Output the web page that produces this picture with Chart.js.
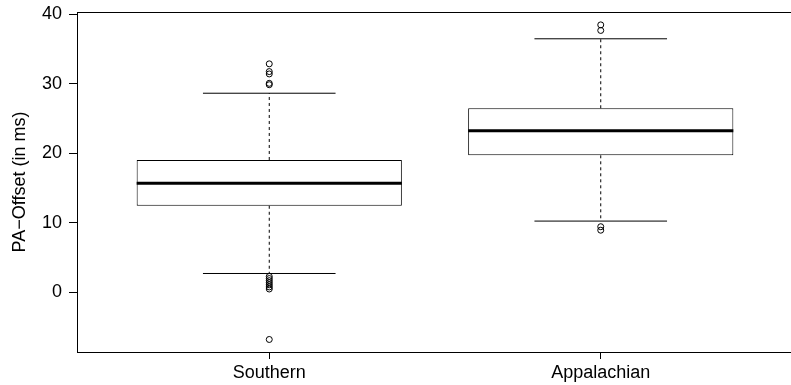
<!DOCTYPE html>
<html>
<head>
<meta charset="utf-8">
<script src="https://cdn.jsdelivr.net/npm/chart.js@4/dist/chart.umd.min.js"></script>
<style>
  html, body { margin: 0; padding: 0; background: #fff; overflow: hidden; }
  #wrap { width: 798px; height: 385px; position: relative; }
</style>
</head>
<body>
<div id="wrap"><canvas id="c"></canvas></div>
<script>
// ---- data ----
const categories = ['Southern', 'Appalachian'];
const q1 = [12.46, 19.71];
const median = [15.68, 23.25];
const q3 = [19.04, 26.47];
const whiskerLow = [2.73, 10.26];
const whiskerHigh = [28.63, 36.45];
const outliersSouthern = [32.85, 31.74, 31.4, 30.05, 29.85, 2.3, 2.0, 1.7, 1.4, 1.1, 0.8, 0.5, -6.75];
const outliersAppalachian = [38.45, 37.65, 9.45, 8.95];
const yTicks = [0, 10, 20, 30, 40];

const outliers = [outliersSouthern, outliersAppalachian];
const BOX_HALF = 0.4, CAP_HALF = 0.2;

const boxData = categories.map((c, i) => ({ x: i + 1, y: [q1[i], q3[i]] }));
const medianData = [], whiskerData = [], capData = [], outlierData = [];
categories.forEach((c, i) => {
  const x = i + 1;
  medianData.push({ x: x - BOX_HALF, y: median[i] }, { x: x + BOX_HALF, y: median[i] }, { x: x, y: null });
  whiskerData.push({ x: x, y: q3[i] }, { x: x, y: whiskerHigh[i] }, { x: x, y: null },
                   { x: x, y: q1[i] }, { x: x, y: whiskerLow[i] }, { x: x, y: null });
  capData.push({ x: x - CAP_HALF, y: whiskerHigh[i] }, { x: x + CAP_HALF, y: whiskerHigh[i] }, { x: x, y: null },
               { x: x - CAP_HALF, y: whiskerLow[i] }, { x: x + CAP_HALF, y: whiskerLow[i] }, { x: x, y: null });
  outliers[i].forEach(v => outlierData.push({ x: x, y: v }));
});

const FONT = { family: "'Liberation Sans', Arial, Helvetica, sans-serif", size: 18 };

const framePlugin = {
  id: 'frame',
  afterDraw(chart) {
    const a = chart.chartArea, ctx = chart.ctx;
    ctx.save();
    ctx.strokeStyle = '#000';
    ctx.lineWidth = 1;
    ctx.strokeRect(Math.round(a.left) + 0.5, Math.round(a.top) + 0.5,
                   Math.round(a.right - a.left) - 1, Math.round(a.bottom - a.top));
    ctx.restore();
  }
};

function zeroPad(s) { s.paddingLeft = 0; s.paddingRight = 0; s.paddingTop = 0; s.paddingBottom = 0; }

new Chart(document.getElementById('c'), {
  type: 'bar',
  data: {
    datasets: [
      {
        type: 'bar', data: boxData, order: 5,
        backgroundColor: '#ffffff', borderColor: '#000000', borderWidth: 1,
        borderSkipped: false, barPercentage: 0.8, categoryPercentage: 1.0
      },
      {
        type: 'line', data: whiskerData, order: 6,
        borderColor: '#000000', borderWidth: 1, borderDash: [3, 3],
        pointRadius: 0, spanGaps: false, fill: false
      },
      {
        type: 'line', data: capData, order: 2,
        borderColor: '#000000', borderWidth: 1,
        pointRadius: 0, spanGaps: false, fill: false
      },
      {
        type: 'line', data: medianData, order: 1,
        borderColor: '#000000', borderWidth: 3,
        pointRadius: 0, spanGaps: false, fill: false
      },
      {
        type: 'line', data: outlierData, order: 0, showLine: false,
        pointStyle: 'circle', pointRadius: 3, pointBorderWidth: 1,
        pointBorderColor: '#000000', pointBackgroundColor: 'rgba(255,255,255,0)'
      }
    ]
  },
  options: {
    responsive: true,
    maintainAspectRatio: false,
    animation: false,
    events: [],
    layout: { padding: { top: 12, right: 0, bottom: 0, left: 0 } },
    plugins: { legend: { display: false }, tooltip: { enabled: false } },
    scales: {
      x: {
        type: 'linear', min: 0.42, max: 2.58, offset: false,
        afterBuildTicks: s => { s.ticks = categories.map((c, i) => ({ value: i + 1 })); },
        afterFit: s => { s.height = 33; zeroPad(s); },
        ticks: {
          callback: v => categories[Math.round(v) - 1] || '',
          font: FONT, color: '#000', padding: 3, autoSkip: false, maxRotation: 0
        },
        grid: { display: true, drawOnChartArea: false, drawTicks: true, tickLength: 7, color: '#000', offset: false },
        border: { display: true, color: '#000', width: 1 }
      },
      y: {
        type: 'linear', min: -8.55, max: 40.3,
        afterBuildTicks: s => { s.ticks = yTicks.map(v => ({ value: v })); },
        afterFit: s => { s.width = 77; zeroPad(s); },
        ticks: { font: FONT, color: '#000', padding: 7 },
        grid: { display: true, drawOnChartArea: false, drawTicks: true, tickLength: 8, color: '#000' },
        border: { display: true, color: '#000', width: 1 },
        title: {
          display: true, text: 'PA\u2212Offset (in ms)',
          font: FONT, color: '#000', padding: { top: 9, bottom: 0 }
        }
      }
    }
  },
  plugins: [framePlugin]
});
</script>
</body>
</html>
